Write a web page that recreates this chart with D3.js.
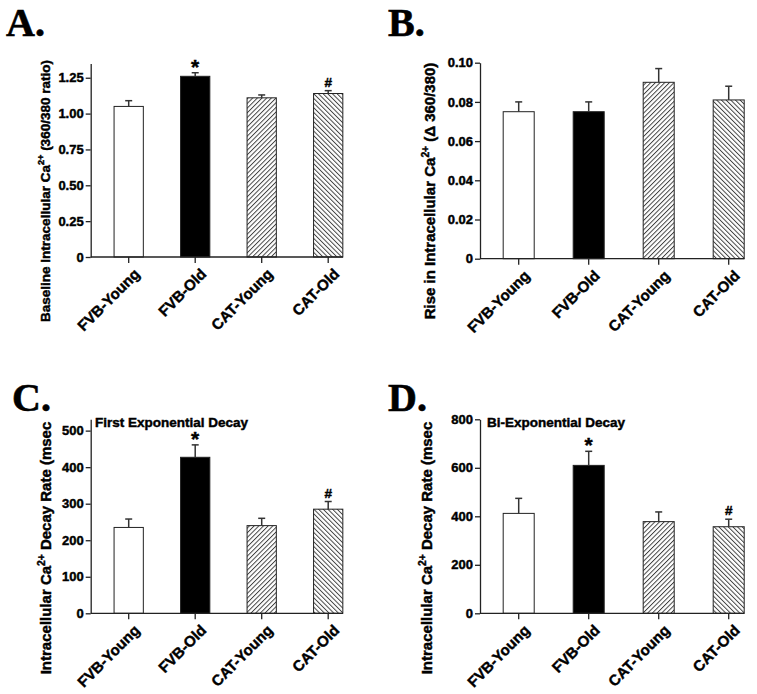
<!DOCTYPE html>
<html><head><meta charset="utf-8">
<script src="https://cdn.jsdelivr.net/npm/d3@7"></script>
<style>
body{margin:0;background:#fff;}
text{font-family:"Liberation Sans",Arial,sans-serif;font-weight:bold;fill:#000;stroke:#000;stroke-width:0.45px;}
text.letter{stroke-width:0.6px;}
</style></head>
<body><svg id="c" width="757" height="694"></svg>
<script>
const categories = ["FVB-Young","FVB-Old","CAT-Young","CAT-Old"];
const fills = ["white","black","url(#hatchUp)","url(#hatchDown)"];

const baselineMean = [1.05, 1.26, 1.11, 1.14];
const baselineErr  = [0.04, 0.025, 0.02, 0.02];
const baselineMarks = ["", "*", "", "#"];
const baselineTicks = [0, 0.25, 0.5, 0.75, 1.0, 1.25];

const riseMean = [0.075, 0.075, 0.090, 0.081];
const riseErr  = [0.005, 0.005, 0.007, 0.007];
const riseMarks = ["", "", "", ""];
const riseTicks = [0, 0.02, 0.04, 0.06, 0.08, 0.10];

const firstMean = [235, 427, 240, 285];
const firstErr  = [23, 34, 20, 21];
const firstMarks = ["", "*", "", "#"];
const firstTicks = [0, 100, 200, 300, 400, 500];

const biMean = [412, 610, 378, 357];
const biErr  = [62, 58, 40, 31];
const biMarks = ["", "*", "", "#"];
const biTicks = [0, 200, 400, 600, 800];

const svg = d3.select("#c");
const defs = svg.append("defs");
function hatch(id, angle){
  const p = defs.append("pattern").attr("id", id).attr("patternUnits","userSpaceOnUse")
    .attr("width", 3.3).attr("height", 3.3).attr("patternTransform", `rotate(${angle})`);
  p.append("rect").attr("width",3.3).attr("height",3.3).attr("fill","white");
  p.append("line").attr("x1",0.5).attr("y1",0).attr("x2",0.5).attr("y2",3.3)
    .attr("stroke","#333").attr("stroke-width",0.9);
}
hatch("hatchUp", 45);
hatch("hatchDown", -45);

function fmt2(d){ return d === 0 ? "0" : d3.format(".2f")(d); }

function panel(cfg){
  const g = svg.append("g");
  const y = d3.scaleLinear().domain([0, cfg.ymax]).range([cfg.base, cfg.top]);
  const x = d3.scaleBand().domain(categories).range([cfg.x0, cfg.x0 + 4*cfg.step])
    .paddingInner(cfg.pad).paddingOuter(cfg.pad/2);

  g.append("text").attr("class","letter").attr("x", cfg.lx).attr("y", cfg.ly).text(cfg.letter)
    .style("font-family","'Liberation Serif','Times New Roman',serif").style("font-size","40px");

  g.selectAll("rect.bar").data(cfg.mean).join("rect").attr("class","bar")
    .attr("x",(d,i)=>x(categories[i])).attr("width",x.bandwidth())
    .attr("y",d=>y(d)).attr("height",d=>cfg.base - y(d))
    .attr("fill",(d,i)=>fills[i]).attr("stroke","#222").attr("stroke-width",1);

  cfg.mean.forEach((m,i)=>{
    const cx = x(categories[i]) + x.bandwidth()/2;
    const yt = y(m + cfg.err[i]);
    g.append("line").attr("x1",cx).attr("x2",cx).attr("y1",y(m)).attr("y2",yt)
      .attr("stroke","#333").attr("stroke-width",1.5);
    g.append("line").attr("x1",cx-3.5).attr("x2",cx+3.5).attr("y1",yt).attr("y2",yt)
      .attr("stroke","#333").attr("stroke-width",1.5);
    const mk = cfg.marks[i];
    if(mk === "*"){
      g.append("text").attr("x",cx).attr("y",yt+1).attr("text-anchor","middle")
        .style("font-size","21px").text("*");
    } else if(mk === "#"){
      g.append("text").attr("x",cx).attr("y",yt-4).attr("text-anchor","middle")
        .style("font-size","13.5px").text("#");
    }
  });

  const ya = g.append("g").attr("transform",`translate(${cfg.ax},0)`)
    .call(d3.axisLeft(y).tickValues(cfg.ticks).tickFormat(cfg.fmt).tickSize(5).tickSizeOuter(0).tickPadding(2));
  ya.selectAll("path,line").attr("stroke","#222").attr("stroke-width",1.3);
  ya.selectAll("text").style("font-size","13px").style("font-family","'Liberation Sans',Arial,sans-serif").style("font-weight","bold").attr("fill","#000");

  const xa = g.append("g").attr("transform",`translate(0,${cfg.base})`)
    .call(d3.axisBottom(x).tickSize(6).tickFormat(""));
  xa.select(".domain").remove();
  xa.selectAll("line").attr("stroke","#222").attr("stroke-width",1.3);
  g.append("line").attr("x1",cfg.ax).attr("x2",cfg.axEnd).attr("y1",cfg.base).attr("y2",cfg.base)
    .attr("stroke","#222").attr("stroke-width",1.3);

  categories.forEach((c,i)=>{
    const cx = x(c) + x.bandwidth()/2;
    g.append("text").attr("transform",`translate(${cx+12},${cfg.base+18}) rotate(-45)`)
      .attr("text-anchor","end").style("font-size","15px").text(c);
  });

  const yl = g.append("text").attr("transform",`translate(${cfg.ylx},${cfg.yly}) rotate(-90)`)
    .attr("text-anchor","middle").style("font-size",cfg.ylSize+"px");
  yl.append("tspan").text(cfg.ylA);
  yl.append("tspan").attr("dy",-6).style("font-size",(cfg.ylSize*0.68)+"px").text("2+");
  yl.append("tspan").attr("dy",6).text(cfg.ylB);

  if(cfg.title){
    g.append("text").attr("x",cfg.tx).attr("y",cfg.ty).style("font-size","13.5px").text(cfg.title);
  }
}

panel({letter:"A.", lx:6, ly:36, mean:baselineMean, err:baselineErr, marks:baselineMarks,
  ticks:baselineTicks, fmt:fmt2, ymax:1.35, base:257, top:63.4, ax:90.7, axEnd:343,
  x0:95.45, step:66.5, pad:0.56, ylx:50, yly:191, ylSize:13.5,
  ylA:"Baseline Intracellular Ca", ylB:"  (360/380 ratio)"});

panel({letter:"B.", lx:388, ly:36, mean:riseMean, err:riseErr, marks:riseMarks,
  ticks:riseTicks, fmt:fmt2, ymax:0.10, base:258.7, top:62.7, ax:480, axEnd:744.3,
  x0:483.7, step:70, pad:0.557, ylx:435, yly:191, ylSize:15,
  ylA:"Rise in Intracellular Ca", ylB:"  (\u0394 360/380)"});

panel({letter:"C.", lx:12, ly:411, mean:firstMean, err:firstErr, marks:firstMarks,
  ticks:firstTicks, fmt:d3.format("d"), ymax:531, base:613.3, top:419.3, ax:90.7, axEnd:343,
  x0:95.45, step:66.5, pad:0.56, ylx:51, yly:548, ylSize:15,
  ylA:"Intracellular Ca", ylB:" Decay Rate (msec", title:"First Exponential Decay", tx:95, ty:427});

panel({letter:"D.", lx:388, ly:411, mean:biMean, err:biErr, marks:biMarks,
  ticks:biTicks, fmt:d3.format("d"), ymax:800, base:613.3, top:419.3, ax:480, axEnd:744.3,
  x0:483.7, step:70, pad:0.557, ylx:432, yly:548, ylSize:15,
  ylA:"Intracellular Ca", ylB:" Decay Rate (msec", title:"Bi-Exponential Decay", tx:487, ty:427});
</script></body></html>
